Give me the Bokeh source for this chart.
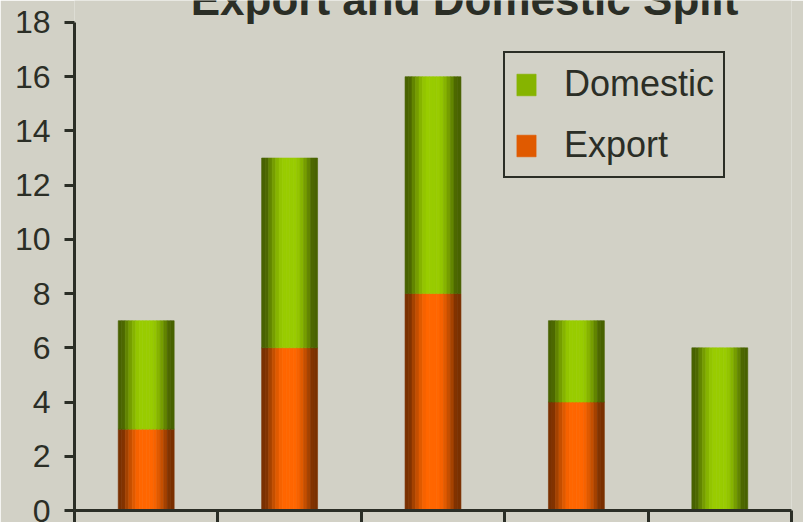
import numpy as np
from bokeh.plotting import figure
from bokeh.models import Range1d, FixedTicker, Legend, LegendItem, Label
from bokeh.embed import file_html
from bokeh.resources import INLINE

# ---- data ----
categories = ["A", "B", "C", "D", "E"]
export = [3, 6, 8, 4, 0]
domestic = [4, 7, 8, 3, 6]
y_ticks = [0, 2, 4, 6, 8, 10, 12, 14, 16, 18]
title_text = "Export and Domestic Split"
series_names = ["Domestic", "Export"]

# ---- style ----
BG = "#d2d1c6"
INK = "#2b2e26"
FONT = "Liberation Sans"
GREEN_DARK, GREEN_BRIGHT = (72, 98, 0), (153, 204, 0)
ORANGE_DARK, ORANGE_BRIGHT = (122, 48, 0), (255, 102, 0)
Y_TOP = 18.81  # room above the 18 tick so the (cut-off) title fits in the frame


def shade(dark, bright, g):
    return "#%02x%02x%02x" % tuple(int(round(d + (b - d) * g)) for d, b in zip(dark, bright))


p = figure(width=803, height=522, output_backend="svg", toolbar_location=None,
           x_range=Range1d(0, len(categories)), y_range=Range1d(0, Y_TOP),
           min_border_left=74, min_border_right=12, min_border_top=0, min_border_bottom=11,
           background_fill_color=BG, border_fill_color=BG, outline_line_color=None)

xs = np.arange(len(categories)) + 0.5
exp = np.array(export, dtype=float)
dom = np.array(domestic, dtype=float)

n = 16
bar_w = 0.39
legend_dom = legend_exp = None
for k in range(n):
    t = (k + 0.5) / n
    g = float(np.clip((np.sin(np.pi * t) - 0.25) / 0.68, 0, 1))
    off = (t - 0.5) * bar_w
    sw = bar_w / n
    oc = shade(ORANGE_DARK, ORANGE_BRIGHT, g)
    gc = shade(GREEN_DARK, GREEN_BRIGHT, g)
    ro = p.vbar(x=xs + off, width=sw, bottom=0, top=exp, fill_color=oc,
                line_color=oc, line_width=0.6)
    rg = p.vbar(x=xs + off, width=sw, bottom=exp, top=exp + dom, fill_color=gc,
                line_color=gc, line_width=0.6)
    if k == 4:
        legend_exp, legend_dom = ro, rg

legend = Legend(items=[LegendItem(label=series_names[0], renderers=[legend_dom]),
                       LegendItem(label=series_names[1], renderers=[legend_exp])],
                location=(429, 332), orientation="vertical",
                border_line_color=INK, border_line_width=2, border_line_alpha=1,
                background_fill_alpha=0,
                label_text_font=FONT, label_text_font_size="36px", label_text_color=INK,
                glyph_width=24, glyph_height=27, label_standoff=26, spacing=17,
                padding=9, margin=0, label_height=44)
p.add_layout(legend)

# title (partly cut off at the top, as in the reference)
p.add_layout(Label(x=2.72, y=18.86, text=title_text,
                   text_font=FONT, text_font_style="bold", text_font_size="44px",
                   text_align="center", text_baseline="alphabetic", text_color=INK))

p.xgrid.visible = False
p.ygrid.visible = False

p.yaxis.ticker = FixedTicker(ticks=y_ticks)
p.yaxis.bounds = (0, 18)
p.yaxis.axis_line_width = 3
p.yaxis.axis_line_color = INK
p.yaxis.major_tick_line_width = 3
p.yaxis.major_tick_line_color = INK
p.yaxis.major_tick_out = 10
p.yaxis.major_tick_in = 0
p.yaxis.minor_tick_line_color = None
p.yaxis.major_label_text_font = FONT
p.yaxis.major_label_text_font_size = "32px"
p.yaxis.major_label_text_color = INK
p.yaxis.major_label_standoff = 14

p.xaxis.ticker = FixedTicker(ticks=list(range(len(categories) + 1)))
p.xaxis.major_label_text_font_size = "0px"
p.xaxis.major_label_standoff = 0
p.xaxis.axis_line_width = 3
p.xaxis.axis_line_color = INK
p.xaxis.major_tick_line_width = 3
p.xaxis.major_tick_line_color = INK
p.xaxis.major_tick_out = 12
p.xaxis.major_tick_in = 0
p.xaxis.minor_tick_line_color = None

open("out.html", "w").write(file_html(p, INLINE))
